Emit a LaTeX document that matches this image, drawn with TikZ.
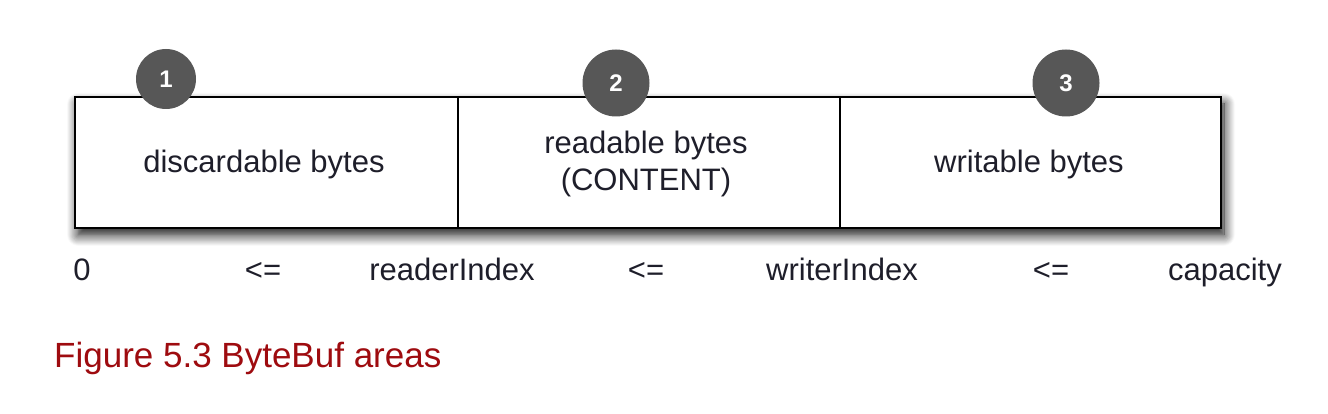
\documentclass[tikz,border=0pt]{standalone}
\usepackage{fontspec}
\setmainfont{Liberation Sans}
\usetikzlibrary{shadows.blur}
\definecolor{numgray}{HTML}{575757}
\definecolor{captionred}{HTML}{9E0B0F}
\definecolor{txt}{HTML}{1E1E2A}
\begin{document}
\begin{tikzpicture}[x=1pt,y=1pt,
  cell/.style={draw=black, line width=1.6pt, fill=white, minimum height=131pt, inner sep=0pt},
  celltext/.style={text=txt, font=\fontsize{31}{37}\selectfont, inner sep=0pt, anchor=base},
  badge/.style={circle, fill=numgray, text=white, font=\bfseries\fontsize{24}{24}\selectfont, inner sep=0pt},
  lbl/.style={text=txt, font=\fontsize{31}{31}\selectfont, inner sep=0pt, anchor=base}]
\useasboundingbox (0,0) rectangle (1328,414);
% shadow
\fill[white, blur shadow={shadow xshift=3pt, shadow yshift=-7pt, shadow blur radius=11pt, shadow opacity=95, shadow blur steps=12}] (75,186) rectangle (1221,317);
\node[cell, minimum width=383pt] (c1) at (266.5,251.5) {};
\node[cell, minimum width=382pt] (c2) at (649,251.5) {};
\node[cell, minimum width=381pt] (c3) at (1030.5,251.5) {};
\node[celltext] (t1) at (264,241) {discardable bytes};
\node[celltext] (t2a) at (646,260) {readable bytes};
\node[celltext] (t2b) at (646,223) {(CONTENT)};
\node[celltext] (t3) at (1029,241) {writable bytes};
\node[badge, minimum size=60pt] (b1) at (166,335) {1};
\node[badge, minimum size=67pt] (b2) at (616,331) {2};
\node[badge, minimum size=67pt] (b3) at (1066,331) {3};
\node[lbl] (l0) at (82,133) {0};
\node[lbl] (le1) at (263,133) {<=};
\node[lbl] (lr) at (452,133) {readerIndex};
\node[lbl] (le2) at (646,133) {<=};
\node[lbl] (lw) at (842,133) {writerIndex};
\node[lbl] (le3) at (1051,133) {<=};
\node[lbl] (lc) at (1225,133) {capacity};
\node[text=captionred, font=\fontsize{35}{35}\selectfont, anchor=base west, inner sep=0pt] (cap) at (54,46) {Figure 5.3 ByteBuf areas};
\end{tikzpicture}
\end{document}
